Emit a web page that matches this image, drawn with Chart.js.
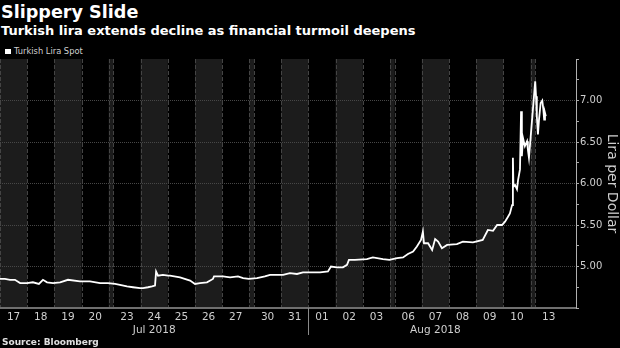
<!DOCTYPE html>
<html>
<head>
<meta charset="utf-8">
<script src="https://cdn.jsdelivr.net/npm/chart.js@4/dist/chart.umd.min.js"></script>
<style>
  html, body { margin: 0; padding: 0; background: #000; }
  body { width: 620px; height: 348px; position: relative; overflow: hidden; font-family: "DejaVu Sans", sans-serif; }
  canvas { position: absolute; left: 0; top: 0; }
  .txt { position: absolute; white-space: nowrap; line-height: 1; }
  #title { left: 1px; top: 4px; font-size: 17.6px; font-weight: bold; color: #fff; }
  #subtitle { left: 1px; top: 23.5px; font-size: 13px; font-weight: bold; color: #fff; }
  #legend { left: 5px; top: 47px; font-size: 8.3px; color: #d0d0d0; }
  #legend i { display: inline-block; width: 6px; height: 5px; background: #fff; margin-right: 3px; vertical-align: 0; }
  #source { left: 2px; top: 337.5px; font-size: 9px; font-weight: bold; color: #e0e0e0; }
</style>
</head>
<body>
<div class="txt" id="title">Slippery Slide</div>
<div class="txt" id="subtitle">Turkish lira extends decline as financial turmoil deepens</div>
<div class="txt" id="legend"><i></i>Turkish Lira Spot</div>
<canvas id="liraChart" width="620" height="348"></canvas>
<div class="txt" id="source">Source: Bloomberg</div>
<script>
// ---------------------------------------------------------------------------
// DATA
// ---------------------------------------------------------------------------

const tradingDays = [
    '2018-07-17', '2018-07-18', '2018-07-19', '2018-07-20',
    '2018-07-23', '2018-07-24', '2018-07-25', '2018-07-26', '2018-07-27',
    '2018-07-30', '2018-07-31', '2018-08-01', '2018-08-02', '2018-08-03',
    '2018-08-06', '2018-08-07', '2018-08-08', '2018-08-09', '2018-08-10',
    '2018-08-13'
];
const monthNames = ['Jan', 'Feb', 'Mar', 'Apr', 'May', 'Jun', 'Jul', 'Aug', 'Sep', 'Oct', 'Nov', 'Dec'];

// session time in trading days since Jul 17 open
const sessionTime = [
    0.00, 0.18, 0.37, 0.55, 0.74, 0.99, 1.21, 1.43, 1.58, 1.73,
    1.95, 2.21, 2.50, 2.94, 3.31, 3.68, 3.97, 4.06, 4.24, 4.50,
    4.72, 4.98, 5.09, 5.27, 5.42, 5.53, 5.57, 5.64, 5.82, 6.01,
    6.08, 6.45, 6.82, 7.00, 7.18, 7.44, 7.66, 7.70, 8.03, 8.29,
    8.58, 8.77, 8.98, 9.11, 9.40, 9.59, 10.07, 10.32, 10.58, 10.80,
    11.06, 11.43, 11.72, 11.83, 12.05, 12.27, 12.42, 12.49, 12.71, 13.15,
    13.37, 13.74, 13.98, 14.09, 14.31, 14.49, 14.68, 14.82, 14.97, 15.04,
    15.08, 15.23, 15.38, 15.49, 15.60, 15.74, 15.93, 16.29, 16.51, 16.88,
    17.24, 17.43, 17.62, 17.77, 17.95, 18.06, 18.17, 18.24, 18.32, 18.35,
    18.37, 18.43, 18.50, 18.54, 18.61, 18.65, 18.68, 18.72, 18.79, 18.87,
    18.90, 18.94, 18.97, 19.00, 19.03, 19.06, 19.10, 19.14, 19.20, 19.26,
    19.30, 19.33, 19.36, 19.39
];
const liraSpot = [
    4.85, 4.85, 4.84, 4.84, 4.80, 4.80, 4.81, 4.79, 4.84, 4.81,
    4.80, 4.81, 4.84, 4.82, 4.82, 4.80, 4.80, 4.79, 4.78, 4.76,
    4.75, 4.74, 4.74, 4.75, 4.76, 4.77, 4.94, 4.89, 4.90, 4.89,
    4.89, 4.87, 4.83, 4.79, 4.80, 4.81, 4.85, 4.88, 4.88, 4.87,
    4.88, 4.86, 4.85, 4.86, 4.88, 4.90, 4.90, 4.92, 4.91, 4.93,
    4.93, 4.93, 4.94, 5.00, 4.99, 4.99, 5.02, 5.08, 5.08, 5.09,
    5.11, 5.09, 5.08, 5.10, 5.11, 5.15, 5.18, 5.24, 5.32, 5.42,
    5.28, 5.28, 5.20, 5.33, 5.30, 5.22, 5.26, 5.27, 5.30, 5.29,
    5.32, 5.44, 5.43, 5.50, 5.50, 5.54, 5.60, 5.64, 5.74, 6.31,
    5.96, 5.98, 5.93, 6.04, 6.17, 6.87, 6.33, 6.55, 6.45, 6.51,
    6.41, 6.31, 6.43, 7.23, 7.05, 6.81, 6.59, 6.77, 6.97, 7.00,
    6.89, 6.77, 6.85, 6.81
];

const yMajorTicks = [5.00, 5.50, 6.00, 6.50, 7.00];

// ---------------------------------------------------------------------------
// AXIS GEOMETRY (weekends shown as a thin gap)
// ---------------------------------------------------------------------------

const GAP = 0.17;
const weekendBreaks = [4, 9, 14, 19];
const X_MAX = tradingDays.length + weekendBreaks.length * GAP + 0.5;

function dayPos(t) {
    return t + GAP * weekendBreaks.filter(b => t >= b).length;
}

function dayDate(d) {
    return new Date(d + 'T00:00:00Z');
}

const dayLabels = tradingDays.map(d => d.slice(8));
const shadedDay = tradingDays.map(d => [2, 4].includes(dayDate(d).getUTCDay()));

const FONT = '"DejaVu Sans", sans-serif';
const LABEL_COLOR = '#cfcfcf';

// ---------------------------------------------------------------------------
// PLUGINS
// ---------------------------------------------------------------------------

const dayColumns = {
    id: 'dayColumns',
    beforeDraw(chart) {
        const { ctx, chartArea: { top, bottom }, scales: { x } } = chart;
        const px = v => x.getPixelForValue(v);
        ctx.save();

        ctx.fillStyle = '#1c1c1c';
        tradingDays.forEach((d, i) => {
            const start = dayPos(i);
            if (shadedDay[i]) ctx.fillRect(px(start), top, px(start + 1) - px(start), bottom - top);
            if (weekendBreaks.includes(i)) ctx.fillRect(px(start - GAP), top, px(start) - px(start - GAP), bottom - top);
        });

        ctx.strokeStyle = '#444';
        ctx.lineWidth = 1;
        ctx.setLineDash([4, 2]);
        const lines = [];
        tradingDays.forEach((d, i) => {
            lines.push(dayPos(i));
            if (weekendBreaks.includes(i)) lines.push(dayPos(i) - GAP);
        });
        lines.forEach(v => {
            const xx = Math.round(px(v)) + 0.5;
            ctx.beginPath();
            ctx.moveTo(xx, top);
            ctx.lineTo(xx, bottom);
            ctx.stroke();
        });
        ctx.restore();
    }
};

const monthLabels = {
    id: 'monthLabels',
    afterDraw(chart) {
        const { ctx, scales: { x } } = chart;
        const y0 = x.top;
        const groups = [];
        tradingDays.forEach((d, i) => {
            const dt = dayDate(d);
            const name = monthNames[dt.getUTCMonth()] + ' ' + dt.getUTCFullYear();
            const last = groups[groups.length - 1];
            if (last && last.name === name) last.end = i + 1;
            else groups.push({ name, start: i, end: i + 1 });
        });
        ctx.save();
        ctx.font = '10.5px ' + FONT;
        ctx.fillStyle = LABEL_COLOR;
        ctx.textAlign = 'center';
        ctx.textBaseline = 'middle';
        groups.forEach((g, k) => {
            const a = x.getPixelForValue(dayPos(g.start));
            const b = x.getPixelForValue(dayPos(g.end - 1) + 1);
            ctx.fillText(g.name, (a + b) / 2, y0 + 22);
            if (k > 0) {
                const xx = Math.round(a) + 0.5;
                ctx.strokeStyle = '#8a8a8a';
                ctx.lineWidth = 1;
                ctx.beginPath();
                ctx.moveTo(xx, y0);
                ctx.lineTo(xx, y0 + 27);
                ctx.stroke();
            }
        });
        ctx.restore();
    }
};

// ---------------------------------------------------------------------------
// CHART
// ---------------------------------------------------------------------------

const isMajor = v => yMajorTicks.some(m => Math.abs(m - v) < 1e-6);

new Chart(document.getElementById('liraChart'), {
    type: 'line',
    data: {
        datasets: [{
            label: 'Turkish Lira Spot',
            data: sessionTime.map((t, i) => ({ x: dayPos(t), y: liraSpot[i] })),
            borderColor: '#ffffff',
            borderWidth: 1.8,
            pointRadius: 0,
            tension: 0,
            fill: false
        }]
    },
    options: {
        responsive: false,
        animation: false,
        devicePixelRatio: 1,
        layout: { padding: { top: 59, left: 0, right: 0, bottom: 0 } },
        plugins: {
            legend: { display: false },
            tooltip: { enabled: false }
        },
        scales: {
            x: {
                type: 'linear',
                min: 0,
                max: X_MAX,
                afterBuildTicks: scale => {
                    scale.ticks = tradingDays.map((d, i) => ({ value: dayPos(i) + 0.5 }));
                },
                afterFit: scale => { scale.height = 40; },
                ticks: {
                    autoSkip: false,
                    maxRotation: 0,
                    padding: 3,
                    color: LABEL_COLOR,
                    font: { family: FONT, size: 10.5 },
                    callback: (v, i) => dayLabels[i]
                },
                grid: { drawOnChartArea: false, drawTicks: false },
                border: { color: '#6f6f6f', width: 2 }
            },
            y: {
                position: 'right',
                min: 4.5,
                max: 7.5,
                afterFit: scale => { scale.width = 44; },
                ticks: {
                    stepSize: 0.25,
                    padding: 1,
                    color: LABEL_COLOR,
                    font: { family: FONT, size: 10 },
                    callback: v => isMajor(v) ? v.toFixed(2) : ''
                },
                grid: {
                    color: c => isMajor(c.tick.value) ? '#474747' : 'rgba(0,0,0,0)',
                    tickColor: '#aaaaaa',
                    tickLength: 3
                },
                border: { color: '#b0b0b0', width: 1, dash: [1, 1] },
                title: {
                    display: true,
                    text: 'Lira per Dollar',
                    color: LABEL_COLOR,
                    font: { family: FONT, size: 14 },
                    padding: 0
                }
            }
        }
    },
    plugins: [dayColumns, monthLabels]
});
</script>
</body>
</html>
